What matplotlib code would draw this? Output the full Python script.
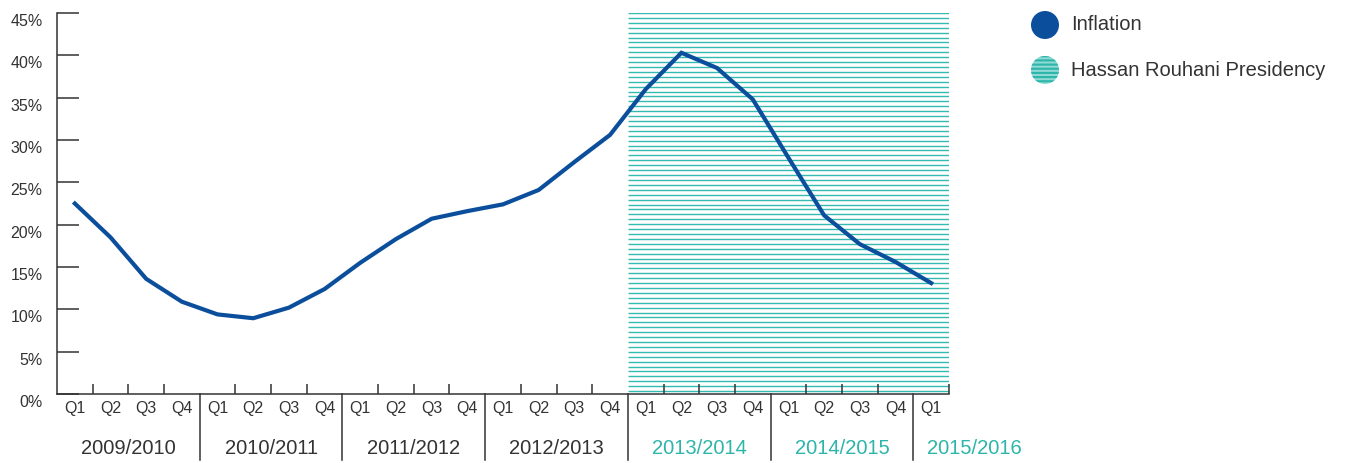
import matplotlib
matplotlib.use("Agg")
import matplotlib.pyplot as plt
from matplotlib.patches import Circle
from matplotlib.transforms import ScaledTranslation
import numpy as np

# ---- data ----
years = ["2009/2010", "2010/2011", "2011/2012", "2012/2013", "2013/2014", "2014/2015", "2015/2016"]
quarters = ["Q1", "Q2", "Q3", "Q4"] * 6 + ["Q1"]
inflation = [22.5, 18.5, 13.6, 10.9,
             9.4, 8.95, 10.2, 12.4,
             15.5, 18.3, 20.7, 21.6,
             22.4, 24.1, 27.4, 30.6,
             36.0, 40.3, 38.5, 34.8,
             27.9, 21.1, 17.7, 15.6,
             13.1]
yticks = [0, 5, 10, 15, 20, 25, 30, 35, 40, 45]
presidency_start = 16   # quarter index where Rouhani presidency starts
year_colors = ["#333333"] * 4 + ["#2cb5a9"] * 3

BLUE = "#0b4f9c"
TEAL = "#2cb5a9"
GREY = "#333333"
FONT = "Liberation Sans"
plt.rcParams["font.family"] = [FONT, "DejaVu Sans"]

W, H = 1345, 463
fig = plt.figure(figsize=(W / 100, H / 100), dpi=100)
ax = fig.add_axes([57 / W, (H - 394) / H, (949 - 57) / W, (394 - 13) / H])

n = len(inflation)
x = np.arange(n) + 0.5
ax.set_xlim(0, n)
ax.set_ylim(0, 45)

# presidency hatch (horizontal lines)
hy = np.arange(45, 0, -0.58)
ax.hlines(hy, presidency_start, n, color="#35bab2", lw=1.0, zorder=1)

ax.plot(x, inflation, color=BLUE, lw=3.0, solid_joinstyle="miter", zorder=3)

for s in ["top", "right"]:
    ax.spines[s].set_visible(False)
for s in ["left", "bottom"]:
    ax.spines[s].set_color(GREY)
    ax.spines[s].set_linewidth(1.1)

ax.set_yticks(yticks)
ax.set_yticklabels([f"{v}%" for v in yticks])
ax.tick_params(axis="y", direction="in", length=16, width=1.1, color=GREY,
               pad=10.5, labelsize=11.5, labelcolor=GREY)
off = ScaledTranslation(0, -7 / 100, fig.dpi_scale_trans)
for lab in ax.get_yticklabels():
    lab.set_transform(lab.get_transform() + off)

# quarter ticks (upward) between quarters within years, and at the end
qt = [i for i in range(1, n + 1) if i % 4 != 0 or i == n]
ax.set_xticks(qt)
ax.set_xticklabels([])
ax.tick_params(axis="x", direction="in", length=7.5, width=1.1, color=GREY)

xt = ax.get_xaxis_transform()
for i, q in enumerate(quarters):
    ax.text(i + 0.5, -0.038, q, transform=xt, ha="center", va="center",
            fontsize=11.5, color=GREY)
for k in range(1, 7):
    ax.plot([4 * k, 4 * k], [0, -0.173], transform=xt, color=GREY, lw=1.1,
            clip_on=False)
for k, yl in enumerate(years):
    cx = 4 * k + 2 if k < 6 else 25.72
    ax.text(cx, -0.142, yl, transform=xt, ha="center", va="center",
            fontsize=14.5, color=year_colors[k])

# legend
lg = fig.add_axes([0, 0, 1, 1])
lg.set_xlim(0, W)
lg.set_ylim(H, 0)
lg.axis("off")
lg.set_aspect("equal")
lg.add_patch(Circle((1045, 25), 14, facecolor=BLUE, edgecolor="none"))
plt.rcParams["hatch.linewidth"] = 1.5
lg.add_patch(Circle((1045, 70), 14, facecolor="#8fdad4", edgecolor="#2cb5a9",
                    hatch="----", linewidth=0))
lg.text(1071, 25, "Inflation", ha="left", va="center", fontsize=14.5, color=GREY)
lg.text(1071, 71, "Hassan Rouhani Presidency", ha="left", va="center",
        fontsize=14.5, color=GREY)

fig.savefig("out.png", dpi=100)
